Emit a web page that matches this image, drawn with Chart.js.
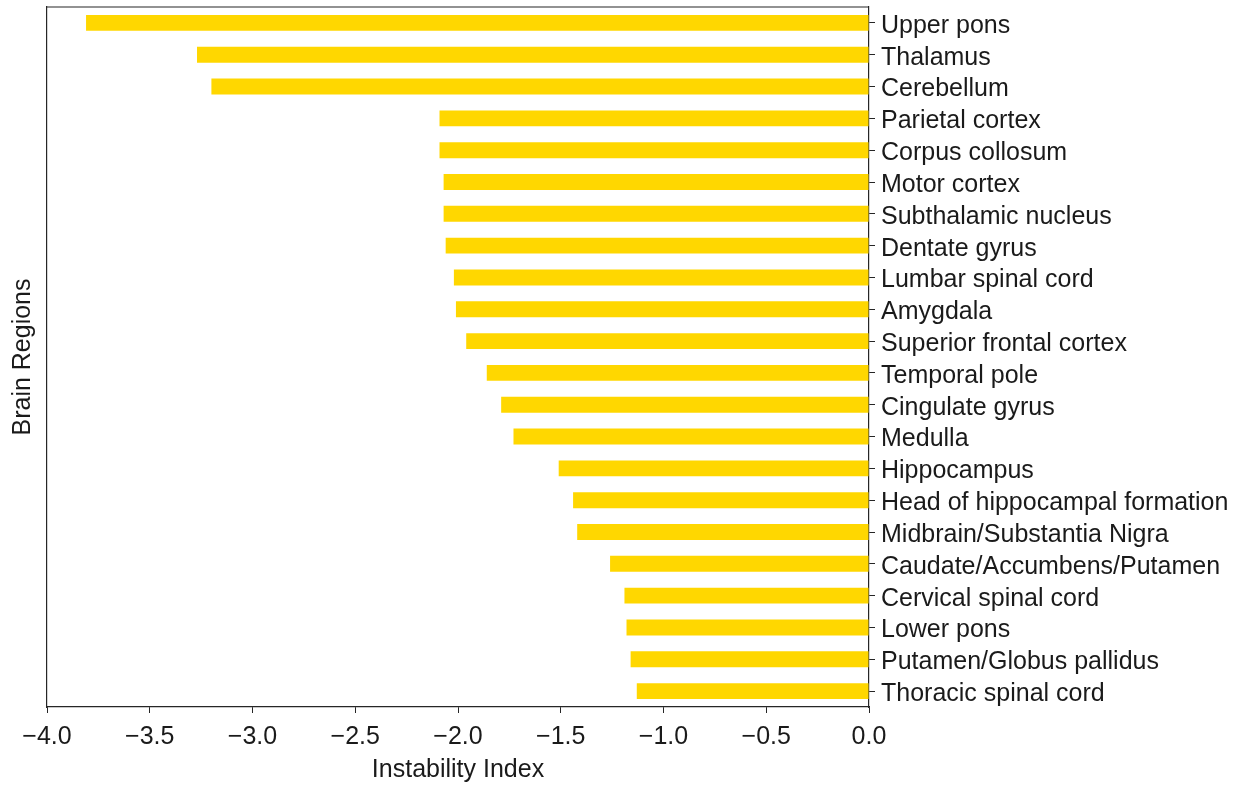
<!DOCTYPE html>
<html>
<head>
<meta charset="utf-8">
<script src="https://cdn.jsdelivr.net/npm/chart.js@4"></script>
<style>
  html, body { margin: 0; padding: 0; background: #fff; }
  #wrap { width: 1250px; height: 785px; }
</style>
</head>
<body>
<div id="wrap"><canvas id="brainChart" width="1250" height="785"></canvas></div>
<script>
// Brain regions, top to bottom
const regions = [
    'Upper pons', 'Thalamus', 'Cerebellum', 'Parietal cortex', 'Corpus collosum',
    'Motor cortex', 'Subthalamic nucleus', 'Dentate gyrus', 'Lumbar spinal cord',
    'Amygdala', 'Superior frontal cortex', 'Temporal pole', 'Cingulate gyrus',
    'Medulla', 'Hippocampus', 'Head of hippocampal formation',
    'Midbrain/Substantia Nigra', 'Caudate/Accumbens/Putamen', 'Cervical spinal cord',
    'Lower pons', 'Putamen/Globus pallidus', 'Thoracic spinal cord'
];

// Instability index per region
const instability = [
    -3.81, -3.27, -3.20, -2.09, -2.09,
    -2.07, -2.07, -2.06, -2.02,
    -2.01, -1.96, -1.86, -1.79,
    -1.73, -1.51, -1.44,
    -1.42, -1.26, -1.19,
    -1.18, -1.16, -1.13
];

const xMin = -4.0;
const xMax = 0.0;
const xStep = 0.5;

const textColor = '#1a1a1a';
const spineColor = '#262626';
const font = { family: "'Liberation Sans', Arial, sans-serif", size: 25 };

// draws the top spine so the plot is boxed like matplotlib
const framePlugin = {
    id: 'frame',
    afterDraw(chart) {
        const a = chart.chartArea;
        const ctx = chart.ctx;
        ctx.save();
        ctx.strokeStyle = spineColor;
        ctx.lineWidth = 1.2;
        ctx.beginPath();
        ctx.moveTo(a.left, a.top);
        ctx.lineTo(a.right, a.top);
        ctx.stroke();
        ctx.restore();
    }
};

// fixed axis sizes so the plot box sits where the reference has it
function noPad(axis) {
    axis.paddingTop = 0;
    axis.paddingBottom = 0;
    axis.paddingLeft = 0;
    axis.paddingRight = 0;
}

const ctx = document.getElementById('brainChart').getContext('2d');
new Chart(ctx, {
    type: 'bar',
    data: {
        labels: regions,
        datasets: [{
            label: 'Instability Index',
            data: instability,
            backgroundColor: '#FFD700',
            borderWidth: 0,
            barPercentage: 0.5,
            categoryPercentage: 1.0
        }]
    },
    options: {
        indexAxis: 'y',
        responsive: false,
        animation: false,
        layout: { padding: { top: 7, left: 0, right: 0, bottom: 0 } },
        plugins: {
            legend: { display: false },
            tooltip: { enabled: false }
        },
        scales: {
            x: {
                min: xMin,
                max: xMax,
                ticks: {
                    stepSize: xStep,
                    color: textColor,
                    font: font,
                    padding: 9,
                    maxRotation: 0,
                    autoSkip: false,
                    callback: v => v.toFixed(1).replace('-', '\u2212')
                },
                grid: {
                    drawOnChartArea: false,
                    tickLength: 6,
                    color: spineColor
                },
                border: { color: spineColor, width: 1.2 },
                title: {
                    display: true,
                    text: 'Instability Index',
                    color: textColor,
                    font: font,
                    padding: { top: 2, bottom: 0 }
                },
                afterFit: axis => { axis.height = 78; noPad(axis); }
            },
            y: {
                position: 'right',
                ticks: {
                    color: textColor,
                    font: font,
                    padding: 6,
                    labelOffset: 3,
                    autoSkip: false
                },
                grid: {
                    drawOnChartArea: false,
                    offset: false,
                    tickLength: 6,
                    color: spineColor
                },
                border: { color: spineColor, width: 1.2 },
                afterFit: axis => { axis.width = 1250 - 869; noPad(axis); }
            },
            yLeft: {
                type: 'category',
                position: 'left',
                ticks: { display: false },
                grid: { display: false },
                border: { color: spineColor, width: 1.2 },
                title: {
                    display: true,
                    text: 'Brain Regions',
                    color: textColor,
                    font: font,
                    padding: { top: 8, bottom: 0 }
                },
                afterFit: axis => { axis.width = 47; noPad(axis); }
            }
        }
    },
    plugins: [framePlugin]
});
</script>
</body>
</html>
